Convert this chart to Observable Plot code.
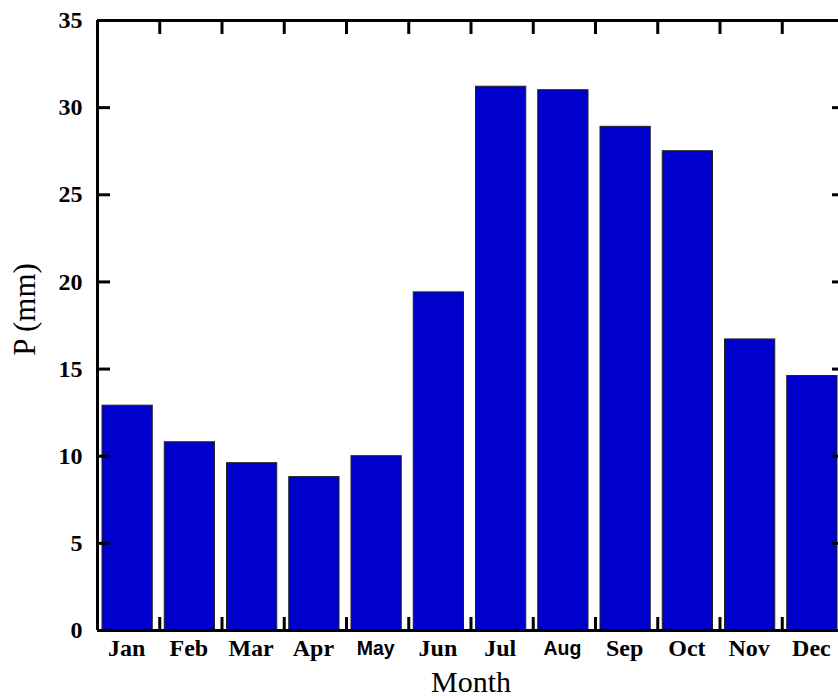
<!DOCTYPE html>
<html><head><meta charset="utf-8">
<script src="https://cdn.jsdelivr.net/npm/d3@7"></script>
<script src="https://cdn.jsdelivr.net/npm/@observablehq/plot@0.6"></script>
<style>html,body{margin:0;padding:0;background:#fff;overflow:hidden}#chart svg{display:block}</style>
</head><body><div id="chart"></div>
<script>
const months = ["Jan","Feb","Mar","Apr","May","Jun","Jul","Aug","Sep","Oct","Nov","Dec"];
const precipitation = [12.9, 10.8, 9.6, 8.8, 10.0, 19.4, 31.2, 31.0, 28.9, 27.5, 16.7, 14.6];
const yTicks = [0, 5, 10, 15, 20, 25, 30, 35];
const boundaryTicks = [1, 2, 3, 4, 5, 6, 7, 8, 9, 10, 11];
const sansLabels = ["May", "Aug"];

const data = months.map((m, i) => ({month: m, index: i, p: precipitation[i]}));
const serif = "'Liberation Serif', 'Times New Roman', serif";
const sans = "'Liberation Sans', Arial, sans-serif";

const chart = Plot.plot({
  width: 838,
  height: 698,
  marginLeft: 97,
  marginRight: -6,
  marginTop: 20,
  marginBottom: 68,
  style: {fontFamily: serif, background: "#fff", color: "#000"},
  x: {domain: [0, 12]},
  y: {domain: [0, 35]},
  marks: [
    Plot.rectY(data, {x1: "index", x2: d => d.index + 1, y: "p", fill: "#0000cc", stroke: "#222", strokeWidth: 1, insetLeft: 5, insetRight: 7}),
    Plot.ruleX([0, 12], {strokeWidth: 3}),
    Plot.ruleY([0, 35], {strokeWidth: 3}),
    Plot.axisX({ticks: boundaryTicks, anchor: "bottom", tickSize: -13, strokeWidth: 3, text: null, label: null}),
    Plot.axisX({ticks: boundaryTicks, anchor: "top", tickSize: -13, strokeWidth: 3, text: null, label: null}),
    Plot.axisY({ticks: yTicks, anchor: "left", tickSize: -13, strokeWidth: 3, text: null, label: null}),
    Plot.axisY({ticks: yTicks, anchor: "right", tickSize: -13, strokeWidth: 3, text: null, label: null}),
    Plot.axisY({ticks: yTicks, anchor: "left", tickSize: 0, tickPadding: 15, fontSize: 24, fontWeight: "bold", label: null}),
    Plot.text(data.filter(d => !sansLabels.includes(d.month)), {x: d => d.index + 0.5, y: 0, text: "month", lineAnchor: "top", dy: 8, dx: -2, fontSize: 24, fontWeight: "bold", fontFamily: serif}),
    Plot.text(data.filter(d => sansLabels.includes(d.month)), {x: d => d.index + 0.5, y: 0, text: "month", lineAnchor: "top", dy: 11, dx: -2, fontSize: 19.5, fontWeight: "bold", fontFamily: sans}),
    Plot.text(["Month"], {frameAnchor: "bottom", lineAnchor: "bottom", dy: 61, fontSize: 30, fontFamily: serif}),
    Plot.text(["P (mm)"], {frameAnchor: "left", textAnchor: "middle", rotate: -90, lineAnchor: "middle", dx: -72, dy: -16, fontSize: 31, fontFamily: serif})
  ]
});
document.getElementById("chart").append(chart);
</script>
</body></html>
